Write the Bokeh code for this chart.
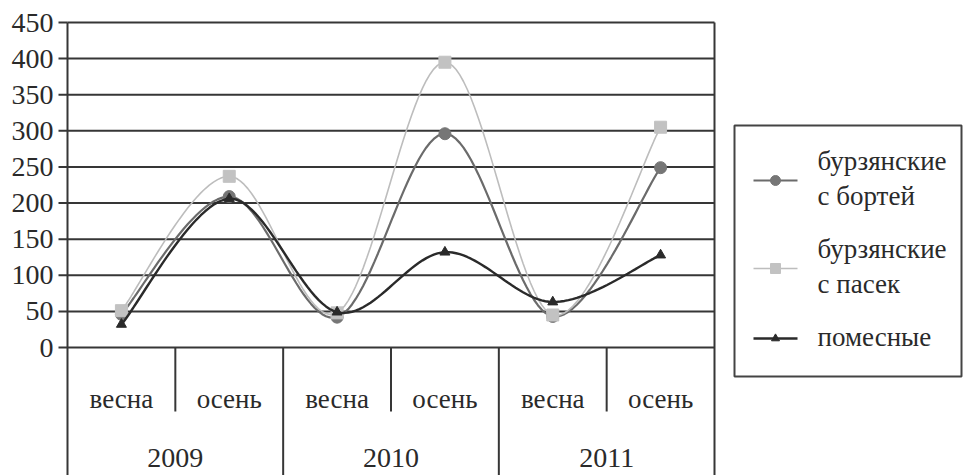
import numpy as np
from bokeh.plotting import figure
from bokeh.layouts import row
from bokeh.models import Range1d
from bokeh.core.properties import value
from bokeh.embed import file_html
from bokeh.resources import INLINE

# --- data -----------------------------------------------------------------
years = ["2009", "2010", "2011"]
seasons = ["весна", "осень"]
bortey = [46, 209, 42, 296, 43, 249]      # бурзянские с бортей
pasek = [51, 237, 48, 395, 45, 305]       # бурзянские с пасек
pomesnye = [32, 206, 49, 132, 63, 128]    # помесные
y_ticks = [0, 50, 100, 150, 200, 250, 300, 350, 400, 450]
y_labels = [str(t) for t in y_ticks]

# --- layout constants (pixels) ----------------------------------------------
W, H = 963, 475
MAIN_W = 720                                   # width of the chart figure
TOP, ZERO_Y, LEFT, RIGHT = 22, 347, 67, 714    # plot-area box
n_cat = len(years) * len(seasons)
SCALE = (ZERO_Y - TOP) / y_ticks[-1]           # px per y unit
UNIT = (RIGHT - LEFT) / n_cat                  # px per category


def dx(px):
    return px / UNIT


def dy(px):
    return px / SCALE


def smooth(ys, n=30):
    """Cubic Bezier smoothing through the points (Catmull-Rom tangents)."""
    ys = np.asarray(ys, float)
    xs = np.arange(len(ys), dtype=float)
    px = np.concatenate([[xs[0]], xs, [xs[-1]]])
    py = np.concatenate([[ys[0]], ys, [ys[-1]]])
    t = np.linspace(0, 1, n)
    out_x, out_y = [], []
    for i in range(len(ys) - 1):
        p0 = np.array([px[i], py[i]])
        p1 = np.array([px[i + 1], py[i + 1]])
        p2 = np.array([px[i + 2], py[i + 2]])
        p3 = np.array([px[i + 3], py[i + 3]])
        c1 = p1 + (p2 - p0) / 6.0
        c2 = p2 - (p3 - p1) / 6.0
        b = ((1 - t) ** 3)[:, None] * p1 + (3 * (1 - t) ** 2 * t)[:, None] * c1 \
            + (3 * (1 - t) * t ** 2)[:, None] * c2 + (t ** 3)[:, None] * p2
        if i > 0:
            b = b[1:]
        out_x.extend(b[:, 0])
        out_y.extend(b[:, 1])
    return out_x, out_y


FONT = "Liberation Serif"
TXT = "#2a2a2a"
GRID = "#363636"

xs = list(range(n_cat))
X0 = -0.5                      # left edge of the plot area
X1 = n_cat - 0.5               # right edge of the plot area
Y_MIN = -dy(H - ZERO_Y)
Y_MAX = y_ticks[-1] + dy(TOP)

p = figure(width=MAIN_W, height=H, output_backend="svg", toolbar_location=None,
           x_range=Range1d(X0 - dx(LEFT), X0 + dx(MAIN_W - LEFT)),
           y_range=Range1d(Y_MIN, Y_MAX),
           min_border_left=0, min_border_right=0,
           min_border_top=0, min_border_bottom=0)
p.outline_line_color = None
p.background_fill_color = "white"
p.border_fill_color = "white"
p.axis.visible = False
p.grid.visible = False

# value axis: line, outside ticks and labels
p.segment(x0=[X0], x1=[X0], y0=[y_ticks[-1]], y1=[Y_MIN], line_color=GRID, line_width=2)
p.segment(x0=X0 - dx(9), x1=X0, y0=y_ticks, y1=y_ticks, line_color=GRID, line_width=2)
p.text(x=[X0 - dx(14)] * len(y_ticks), y=y_ticks, text=y_labels,
       text_font=value(FONT), text_font_size="28px", text_color=TXT,
       text_align="right", text_baseline="middle")

# horizontal grid lines across the plot area
p.segment(x0=X0, x1=X1, y0=y_ticks, y1=y_ticks, line_color=GRID, line_width=2)

# right border of the chart, running down through the category table
p.segment(x0=[X1], x1=[X1], y0=[y_ticks[-1]], y1=[Y_MIN], line_color=GRID, line_width=2)

# category table below the zero line
season_bounds = [i * len(seasons) + 0.5 for i in range(len(years))]
year_bounds = [i * len(seasons) - 0.5 for i in range(1, len(years))]
p.segment(x0=season_bounds, x1=season_bounds, y0=0, y1=-dy(64),
          line_color=GRID, line_width=2)
p.segment(x0=year_bounds, x1=year_bounds, y0=0, y1=Y_MIN,
          line_color=GRID, line_width=2)

season_labels = [s for _ in years for s in seasons]
p.text(x=xs, y=[-dy(51)] * n_cat, text=season_labels,
       text_font=value(FONT), text_font_size="27px", text_color=TXT,
       text_align="center", text_baseline="middle")
year_x = [i * len(seasons) + (len(seasons) - 1) / 2 for i in range(len(years))]
p.text(x=year_x, y=[-dy(110)] * len(years), text=years,
       text_font=value(FONT), text_font_size="28px", text_color=TXT,
       text_align="center", text_baseline="middle")

# series: label, values, line colour, marker colour, marker, size, width
series = [
    ("бурзянские\nс бортей", bortey, "#6b6b6b", "#767676", "circle", 12, 2.2),
    ("бурзянские\nс пасек", pasek, "#bdbdbd", "#c2c2c2", "square", 12, 1.6),
    ("помесные", pomesnye, "#2a2a2a", "#2a2a2a", "triangle", 10, 2.4),
]
for label, ys, lc, mc, marker, size, lw in series:
    sx, sy = smooth(ys)
    p.line(sx, sy, line_color=lc, line_width=lw)
    p.scatter(xs, ys, marker=marker, size=size, fill_color=mc, line_color=mc)

# --- legend panel (pixel coordinates, y measured from the top) ---------------
LW = W - MAIN_W
lg = figure(width=LW, height=H, output_backend="svg", toolbar_location=None,
            x_range=Range1d(0, LW), y_range=Range1d(H, 0),
            min_border_left=0, min_border_right=0,
            min_border_top=0, min_border_bottom=0)
lg.axis.visible = False
lg.grid.visible = False
lg.outline_line_color = None
lg.background_fill_color = "white"
lg.border_fill_color = "white"

BOX_L, BOX_R, BOX_T, BOX_B = 734 - MAIN_W, 961 - MAIN_W, 125, 376
lg.quad(left=[BOX_L], right=[BOX_R], top=[BOX_T], bottom=[BOX_B],
        fill_color="white", line_color="#444444", line_width=2)

key_y = [180, 268, 338]           # vertical centre of each legend entry
KEY_X0, KEY_X1, TEXT_X = 753 - MAIN_W, 797 - MAIN_W, 817 - MAIN_W
for (label, ys, lc, mc, marker, size, lw), ky in zip(series, key_y):
    lg.segment(x0=[KEY_X0], x1=[KEY_X1], y0=[ky], y1=[ky], line_color=lc, line_width=lw)
    lg.scatter([(KEY_X0 + KEY_X1) / 2], [ky], marker=marker, size=size - 2,
               fill_color=mc, line_color=mc)
lg.text(x=[TEXT_X] * len(series), y=[ky - 2 for ky in key_y], text=[s[0] for s in series],
        text_font=value(FONT), text_font_size="27px", text_color=TXT,
        text_line_height=1.17, text_align="left", text_baseline="middle")

open("out.html", "w").write(file_html(row(p, lg), INLINE))
